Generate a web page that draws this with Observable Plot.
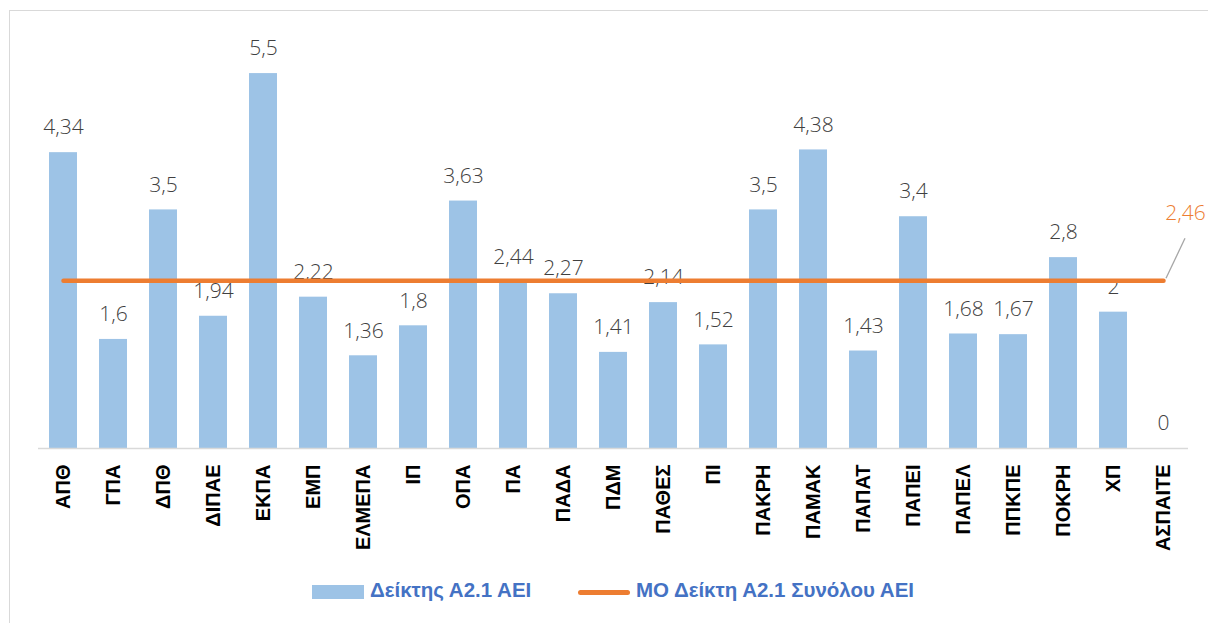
<!DOCTYPE html>
<html>
<head>
<meta charset="utf-8">
<script src="https://cdn.jsdelivr.net/npm/d3@7"></script>
<script src="https://cdn.jsdelivr.net/npm/@observablehq/plot@0.6"></script>
<style>
  html, body { margin: 0; padding: 0; background: #fff; }
  #wrap { position: relative; width: 1208px; height: 623px; overflow: hidden; }
  #frame { position: absolute; left: 9px; top: 10px; width: 1220px; height: 640px; border: 1px solid #d9d9d9; box-sizing: border-box; }
  #chart { position: absolute; left: 0; top: 0; }
  #legend { position: absolute; left: 0; top: 578px; width: 1208px; height: 28px; font-family: "Liberation Sans", Arial, sans-serif; font-weight: bold; font-size: 20.5px; color: #4472C4; }
  .sw { position: absolute; }
  .lt { position: absolute; top: 0px; white-space: nowrap; }
</style>
</head>
<body>
<div id="wrap">
  <div id="frame"></div>
  <div id="chart"></div>
  <div id="legend">
    <div class="sw" style="left:312px; top:7px; width:52px; height:14px; background:#9DC3E6;"></div>
    <div class="lt" style="left:370px;">Δείκτης Α2.1 ΑΕΙ</div>
    <div class="sw" style="left:578px; top:12px; width:52px; height:5px; background:#ED7D31; border-radius:3px;"></div>
    <div class="lt" style="left:636px;">ΜΟ Δείκτη Α2.1 Συνόλου ΑΕΙ</div>
  </div>
</div>
<script>
const categories = ["ΑΠΘ","ΓΠΑ","ΔΠΘ","ΔΙΠΑΕ","ΕΚΠΑ","ΕΜΠ","ΕΛΜΕΠΑ","ΙΠ","ΟΠΑ","ΠΑ","ΠΑΔΑ","ΠΔΜ","ΠΑΘΕΣ","ΠΙ","ΠΑΚΡΗ","ΠΑΜΑΚ","ΠΑΠΑΤ","ΠΑΠΕΙ","ΠΑΠΕΛ","ΠΠΚΠΕ","ΠΟΚΡΗ","ΧΠ","ΑΣΠΑΙΤΕ"];
const values = [4.34,1.6,3.5,1.94,5.5,2.22,1.36,1.8,3.63,2.44,2.27,1.41,2.14,1.52,3.5,4.38,1.43,3.4,1.68,1.67,2.8,2,0];
const averageValue = 2.46;
const seriesNames = ["Δείκτης Α2.1 ΑΕΙ", "ΜΟ Δείκτη Α2.1 Συνόλου ΑΕΙ"];

const bars = categories.map((c, i) => ({c, v: values[i]}));
const avgLine = categories.map(c => ({c, v: averageValue}));
const lastCat = categories[categories.length - 1];
const fmt = v => String(v).replace(".", ",");

const leader = (index, scales) => {
  const x = scales.x, y = scales.y;
  const bw = x.bandwidth ? x.bandwidth() : 0;
  const cx = x(lastCat) + bw / 2;
  const cy = y(averageValue);
  const g = document.createElementNS("http://www.w3.org/2000/svg", "g");
  const ln = document.createElementNS("http://www.w3.org/2000/svg", "line");
  ln.setAttribute("x1", cx + 3); ln.setAttribute("y1", cy - 2);
  ln.setAttribute("x2", cx + 22); ln.setAttribute("y2", cy - 42);
  ln.setAttribute("stroke", "#a6a6a6"); ln.setAttribute("stroke-width", 1.3);
  g.appendChild(ln);
  return g;
};

const chart = Plot.plot({
  width: 1208,
  height: 570,
  marginLeft: 38,
  marginRight: 20,
  marginTop: 39,
  marginBottom: 122,
  style: {background: "transparent", overflow: "visible"},
  x: {type: "band", domain: categories, paddingInner: 0.44, paddingOuter: 0.22, round: false, label: null},
  y: {domain: [0, 6], axis: null},
  marks: [
    Plot.barY(bars, {x: "c", y: "v", fill: "#9DC3E6"}),
    Plot.ruleY([0], {stroke: "#d9d9d9", strokeWidth: 1.5}),
    Plot.axisX({tickRotate: -90, tickSize: 0, tickPadding: 16, fontSize: 20, fontWeight: "bold", fontFamily: "Liberation Sans, Arial, sans-serif", fill: "#000", label: null}),
    Plot.text(bars, {x: "c", y: "v", text: d => fmt(d.v), dy: -25, fontSize: 21, fontFamily: "Open Sans, sans-serif", fontWeight: 300, fill: "#404040"}),
    Plot.line(avgLine, {x: "c", y: "v", stroke: "#ED7D31", strokeWidth: 4.5, strokeLinecap: "round"}),
    leader,
    Plot.text([{c: lastCat, v: averageValue}], {x: "c", y: "v", text: d => fmt(d.v), dx: 22, dy: -68, fontSize: 21, fontFamily: "Open Sans, sans-serif", fontWeight: 300, fill: "#ED7D31"})
  ]
});
document.getElementById("chart").appendChild(chart);
</script>
</body>
</html>
